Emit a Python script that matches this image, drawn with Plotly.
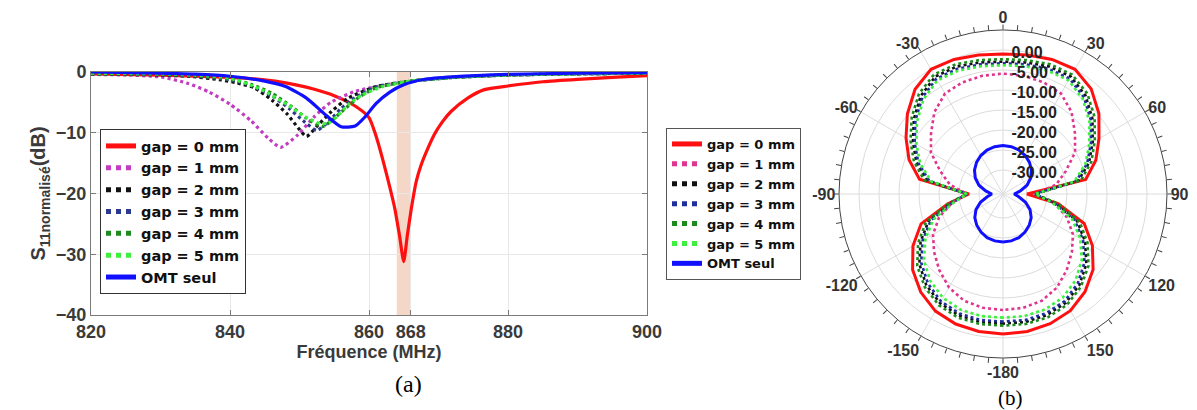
import plotly.graph_objects as go

# ---------------- (a) S11 vs frequency ----------------
f_gap0 = [820, 830, 840, 845, 848, 852, 855, 858, 860, 861, 862, 863, 863.7, 864.4, 865.0, 865.5, 866.1, 866.8, 867.5, 868.5, 869.4, 870.5, 871.8, 874.2, 876.6, 880, 885, 890, 895, 900]
s_gap0 = [-0.3, -0.5, -0.9, -1.3, -1.8, -2.8, -3.9, -5.6, -7.5, -10.5, -14.5, -19.0, -22.4, -27.0, -31.2, -27.0, -22.4, -18.0, -15.3, -12.5, -10.3, -8.3, -6.5, -4.3, -2.9, -2.3, -1.6, -1.2, -0.9, -0.6]

f_gap1 = [820, 825, 830, 834, 837, 840, 843, 845.5, 847.3, 849.8, 852, 854.5, 858, 862, 867, 872, 880, 890, 900]
s_gap1 = [-0.4, -0.5, -0.8, -1.9, -3.3, -5.3, -8.0, -10.9, -12.4, -10.3, -7.5, -5.0, -3.2, -2.2, -1.4, -0.9, -0.5, -0.3, -0.2]

f_gap2 = [820, 830, 834, 838.7, 841, 843.5, 846, 848.3, 849.8, 851, 852.7, 854.6, 857, 861, 866, 872, 880, 890, 900]
s_gap2 = [-0.3, -0.5, -0.7, -1.3, -1.8, -2.6, -4.6, -7.0, -9.2, -10.6, -8.7, -6.5, -4.3, -2.4, -1.5, -0.9, -0.5, -0.3, -0.2]

f_gap3 = [820, 830, 835, 840, 843, 846, 848.5, 850.5, 852.5, 854.3, 856, 858, 861, 866, 872, 880, 890, 900]
s_gap3 = [-0.3, -0.4, -0.7, -1.3, -2.2, -3.9, -6.0, -8.0, -9.6, -8.0, -6.0, -4.2, -2.5, -1.5, -0.9, -0.5, -0.3, -0.2]

f_gap4 = [820, 830, 835, 840, 843, 846, 849, 851, 853.3, 855, 856.8, 858.5, 861, 866, 872, 880, 890, 900]
s_gap4 = [-0.3, -0.4, -0.6, -1.2, -2.0, -3.5, -5.8, -7.6, -9.0, -7.6, -5.8, -4.2, -2.6, -1.5, -0.9, -0.5, -0.3, -0.2]

f_gap5 = [820, 830, 835, 840, 844.5, 848.3, 850.7, 853.1, 854.2, 855.5, 857.2, 859, 862, 866, 872, 880, 890, 900]
s_gap5 = [-0.2, -0.3, -0.5, -1.0, -2.9, -5.4, -7.3, -8.5, -8.4, -7.2, -5.2, -3.8, -2.4, -1.5, -0.9, -0.5, -0.3, -0.2]

f_omt = [820, 830, 835, 840, 845, 848, 851, 854, 856, 858, 859.5, 861, 863, 865, 868, 872, 880, 890, 900]
s_omt = [0.0, -0.2, -0.35, -0.7, -1.5, -2.4, -4.3, -7.3, -9.0, -8.9, -7.3, -5.2, -3.3, -2.1, -1.2, -0.8, -0.4, -0.2, -0.1]

band = [864, 866]
x_tickvals = [820, 840, 860, 866, 880, 900]
x_ticktext = ["820", "840", "860", "868", "880", "900"]

# ---------------- (b) normalised radiation pattern ----------------
theta = [-180, -170, -160, -150, -140, -130, -120, -110, -100, -90, -80, -70, -60, -50, -40, -30, -20, -10,
         0, 10, 20, 30, 40, 50, 60, 70, 80, 90, 100, 110, 120, 130, 140, 150, 160, 170, 180]

p_gap0 = [-1.0, -1.1, -1.4, -2.2, -4.0, -6.5, -10.0, -14.2, -22.0, -27.5, -14.8, -11.0, -8.0, -4.8, -1.8, 0.0, -0.2, -0.7,
          -1.0, -0.7, -0.2, 0.0, -1.7, -4.7, -8.3, -11.3, -15.0, -30.0, -22.0, -14.4, -10.2, -6.6, -4.1, -2.3, -1.5, -1.1, -1.0]
p_gap1 = [-7.0, -7.1, -7.6, -9.0, -11.2, -13.5, -15.8, -19.0, -23.0, -27.0, -22.5, -19.3, -15.2, -12.5, -9.3, -7.0, -6.3, -6.0,
          -5.9, -6.0, -6.3, -7.0, -9.3, -12.5, -15.2, -19.3, -22.5, -28.0, -23.0, -19.0, -15.8, -13.5, -11.2, -9.0, -7.6, -7.1, -7.0]
p_gap2 = [-3.6, -3.5, -3.7, -4.5, -6.2, -8.7, -12.2, -16.2, -22.5, -27.0, -16.8, -13.0, -10.0, -6.9, -4.0, -2.1, -2.1, -2.6,
          -2.9, -2.6, -2.1, -2.1, -3.9, -6.8, -10.1, -13.1, -16.9, -28.0, -22.5, -16.3, -12.3, -8.8, -6.3, -4.6, -3.8, -3.5, -3.6]
p_gap3 = [-4.1, -4.0, -4.2, -5.0, -6.8, -9.3, -12.8, -16.8, -23.0, -27.0, -17.3, -13.5, -10.5, -7.4, -4.6, -2.7, -2.7, -3.1,
          -3.3, -3.1, -2.7, -2.7, -4.5, -7.3, -10.6, -13.6, -17.4, -28.0, -23.0, -16.9, -12.9, -9.4, -6.9, -5.1, -4.3, -4.0, -4.1]
p_gap4 = [-3.1, -3.0, -3.1, -3.9, -5.6, -8.0, -11.5, -15.5, -22.0, -27.0, -16.0, -12.3, -9.3, -6.2, -3.3, -1.5, -1.5, -2.0,
          -2.3, -2.0, -1.5, -1.5, -3.2, -6.1, -9.5, -12.5, -16.2, -28.0, -22.0, -15.6, -11.6, -8.1, -5.7, -4.0, -3.2, -3.0, -3.1]
p_gap5 = [-5.1, -5.0, -5.2, -6.0, -7.7, -10.2, -13.6, -17.5, -23.5, -27.0, -17.8, -14.0, -11.0, -7.9, -5.1, -3.2, -3.2, -3.6,
          -3.8, -3.6, -3.2, -3.2, -5.0, -7.8, -11.1, -14.1, -17.9, -28.0, -23.5, -17.6, -13.7, -10.3, -7.8, -6.1, -5.3, -5.0, -5.1]
p_omt = [-24.0, -24.1, -24.4, -25.0, -25.8, -26.8, -28.2, -30.0, -32.0, -33.2, -31.6, -29.6, -28.0, -26.7, -25.7, -24.9, -24.3, -24.0,
         -23.9, -24.0, -24.3, -24.9, -25.7, -26.7, -28.0, -29.6, -31.6, -33.2, -32.0, -30.0, -28.2, -26.8, -25.8, -25.0, -24.4, -24.1, -24.0]

r_tickvals = [-30, -25, -20, -15, -10, -5, 0]
r_ticktext = ["-30.00", "-25.00", "-20.00", "-15.00", "-10.00", "-5.00", "0.00"]
a_tickvals = [0, 30, 60, 90, 120, 150, 180, 210, 240, 270, 300, 330]
a_ticktext = ["0", "30", "60", "90", "120", "150", "-180", "-150", "-120", "-90", "-60", "-30"]
a_minor = list(range(0, 360, 5))

names = ["gap = 0 mm", "gap = 1 mm", "gap = 2 mm", "gap = 3 mm", "gap = 4 mm", "gap = 5 mm", "OMT seul"]
cart_colors = ["#ff1010", "#c13cc1", "#111111", "#2b3a8f", "#1d8a1d", "#3df03d", "#1010ff"]
polar_colors = ["#ff1010", "#e0358f", "#111111", "#1f2f9f", "#1d8a1d", "#3df03d", "#1010ff"]
dashes = ["solid", "dot", "dot", "dot", "dot", "dot", "solid"]

cart_f = [f_gap0, f_gap1, f_gap2, f_gap3, f_gap4, f_gap5, f_omt]
cart_s = [s_gap0, s_gap1, s_gap2, s_gap3, s_gap4, s_gap5, s_omt]
polar_r = [p_gap0, p_gap1, p_gap2, p_gap3, p_gap4, p_gap5, p_omt]

FONT = "Liberation Sans, Arial, sans-serif"
LEGFONT = "DejaVu Sans, Liberation Sans, sans-serif"

fig = go.Figure()
for i in range(7):
    fig.add_trace(go.Scatter(
        x=cart_f[i], y=cart_s[i], name=names[i], mode="lines",
        line=dict(color=cart_colors[i], width=3.2, dash=dashes[i], shape="spline", smoothing=0.6),
        legend="legend"))
for i in range(7):
    fig.add_trace(go.Scatterpolar(
        r=polar_r[i], theta=theta, name=names[i], mode="lines",
        line=dict(color=polar_colors[i], width=3 if dashes[i] == "solid" else 2.6, dash=dashes[i]),
        subplot="polar", legend="legend2"))
# overlay polar subplot that only carries the fine outer tick marks
fig.add_trace(go.Scatterpolar(r=[None], theta=[None], subplot="polar2", showlegend=False, hoverinfo="skip"))

axis_common = dict(showgrid=True, gridcolor="#e8e8e8", gridwidth=1, zeroline=False,
                   showline=True, linecolor="#7a7a7a", linewidth=1, mirror="ticks",
                   ticks="inside", ticklen=5, tickcolor="#7a7a7a", automargin=False,
                   tickfont=dict(family=FONT, size=18, color="#3a3a3a", weight="bold"))

CX, CY, R = 995, 186, 164
polar_domain = dict(x=[(CX - R) / 1197, (CX + R) / 1197], y=[1 - (CY + R) / 410, 1 - (CY - R) / 410])

fig.update_layout(
    width=1197, height=410,
    margin=dict(l=0, r=0, t=0, b=0, autoexpand=False),
    paper_bgcolor="white", plot_bgcolor="white",
    font=dict(family=FONT, color="#222"),
    xaxis=dict(domain=[83 / 1197, 639 / 1197], range=[820, 900],
               tickvals=x_tickvals, ticktext=x_ticktext,
               title=dict(text="Fréquence (MHz)", standoff=4,
                          font=dict(family=FONT, size=18, color="#3a3a3a", weight="bold")),
               **axis_common),
    yaxis=dict(domain=[1 - 307 / 410, 1 - 64 / 410], range=[-40, 0], dtick=10,
               title=dict(text="S<sub>11normalisé</sub>(dB)", standoff=4,
                          font=dict(family=FONT, size=20, color="#3a3a3a", weight="bold")),
               **axis_common),
    shapes=[dict(type="rect", xref="x", yref="y", x0=band[0], x1=band[1], y0=-40, y1=0,
                 fillcolor="#f0c9b4", opacity=0.75, line=dict(width=0), layer="below")],
    legend=dict(x=92 / 1197, y=1 - 121 / 410, xanchor="left", yanchor="top",
                bgcolor="white", bordercolor="#333", borderwidth=1,
                font=dict(family=LEGFONT, size=14.5, color="#111", weight="bold"),
                itemwidth=30, tracegroupgap=0, itemsizing="constant"),
    legend2=dict(x=658 / 1197, y=1 - 120 / 410, xanchor="left", yanchor="top",
                 bgcolor="white", bordercolor="#555", borderwidth=1,
                 font=dict(family=LEGFONT, size=13, color="#111", weight="bold"),
                 itemwidth=30, tracegroupgap=0, itemsizing="constant"),
    polar=dict(
        domain=polar_domain,
        bgcolor="white",
        angularaxis=dict(rotation=90, direction="clockwise", tickvals=a_tickvals, ticktext=a_ticktext,
                         showline=True, linecolor="#444", linewidth=1, gridcolor="#dcdcdc",
                         ticks="", tickfont=dict(family=FONT, size=16, color="#333", weight="bold")),
        radialaxis=dict(range=[-36, 5], tickvals=r_tickvals, ticktext=r_ticktext, angle=90,
                        showline=False, gridcolor="#dcdcdc", ticks="",
                        tickfont=dict(family=FONT, size=16, color="#222", weight="bold"))),
    polar2=dict(
        domain=polar_domain,
        bgcolor="rgba(0,0,0,0)",
        angularaxis=dict(rotation=90, direction="clockwise", tickvals=a_minor, showticklabels=False,
                         ticks="outside", ticklen=5, tickcolor="#444", showgrid=False, showline=False),
        radialaxis=dict(visible=False, range=[-36, 5])),
    annotations=[
        dict(text="(a)", x=400 / 1197, y=1 - 376 / 410, xref="paper", yref="paper", showarrow=False,
             xanchor="center", yanchor="middle",
             font=dict(family="Liberation Serif, Times New Roman, serif", size=24, color="#000")),
        dict(text="(b)", x=1002 / 1197, y=1 - 390 / 410, xref="paper", yref="paper", showarrow=False,
             xanchor="center", yanchor="middle",
             font=dict(family="Liberation Serif, Times New Roman, serif", size=21, color="#000")),
    ],
)

fig.write_html("out.html")
